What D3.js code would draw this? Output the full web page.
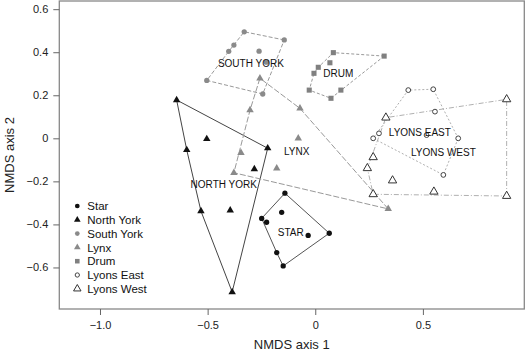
<!DOCTYPE html>
<html><head><meta charset="utf-8">
<script src="https://cdn.jsdelivr.net/npm/d3@7"></script>
<style>body{margin:0;background:#fff}svg{display:block;font-family:"Liberation Sans",Arial,sans-serif}</style>
</head><body><div id="chart"></div>
<script>
// Data: NMDS coordinates [axis1, axis2] per group
const star = [[-0.141,-0.255],[-0.156,-0.344],[-0.249,-0.372],[-0.226,-0.390],[-0.033,-0.451],[0.065,-0.441],[-0.179,-0.531],[-0.149,-0.593]];
const northYork = [[-0.644,0.178],[-0.504,-0.003],[-0.597,-0.054],[-0.221,-0.046],[-0.283,-0.143],[-0.531,-0.338],[-0.395,-0.335],[-0.386,-0.714]];
const southYork = [[-0.330,0.495],[-0.144,0.457],[-0.378,0.433],[-0.402,0.404],[-0.261,0.405],[-0.227,0.354],[-0.504,0.269],[-0.244,0.206]];
const lynx = [[-0.257,0.279],[-0.303,0.131],[-0.071,0.139],[-0.079,0.000],[-0.345,-0.067],[-0.378,-0.160],[-0.179,-0.139],[0.339,-0.328]];
const drum = [[0.084,0.398],[0.320,0.382],[0.068,0.351],[0.014,0.330],[-0.006,0.302],[-0.028,0.224],[0.073,0.186],[0.119,0.224]];
const lyonsEast = [[0.432,0.224],[0.548,0.228],[0.556,0.124],[0.296,0.023],[0.269,0.000],[0.517,0.015],[0.664,0.000],[0.595,-0.170]];
const lyonsWest = [[0.328,0.096],[0.889,0.181],[0.269,-0.088],[0.242,-0.139],[0.359,-0.196],[0.269,-0.260],[0.551,-0.248],[0.889,-0.268]];

const groupNames = ["Star","North York","South York","Lynx","Drum","Lyons East","Lyons West"];
const groupLabels = ["STAR","NORTH YORK","SOUTH YORK","LYNX","DRUM","LYONS EAST","LYONS WEST"];
const labelPos = [[-0.114,-0.435],[-0.425,-0.212],[-0.299,0.348],[-0.086,-0.062],[0.107,0.302],[0.486,0.028],[0.595,-0.067]];
const xTicks = [-1.0,-0.5,0,0.5];
const yTicks = [-0.6,-0.4,-0.2,0,0.2,0.4,0.6];
const xDomain = [-1.189,0.971];
const yDomain = [-0.793,0.638];

const W=526,H=353;
const m={left:59.3,right:1.7,top:1,bottom:44};
const svg=d3.select("#chart").append("svg").attr("width",W).attr("height",H);
const x=d3.scaleLinear().domain(xDomain).range([m.left,W-m.right]);
const y=d3.scaleLinear().domain(yDomain).range([H-m.bottom,m.top]);

const groups=[star,northYork,southYork,lynx,drum,lyonsEast,lyonsWest];
const styles=[
 {shape:d3.symbolCircle,size:22,fill:"#111",stroke:"none",line:"#555",dash:null,lw:1},
 {shape:d3.symbolTriangle,size:24,fill:"#111",stroke:"none",line:"#444",dash:null,lw:1},
 {shape:d3.symbolCircle,size:22,fill:"#8a8a8a",stroke:"none",line:"#999",dash:"4,2",lw:1},
 {shape:d3.symbolTriangle,size:24,fill:"#8a8a8a",stroke:"none",line:"#999",dash:"6,2",lw:1},
 {shape:d3.symbolSquare,size:26,fill:"#808080",stroke:"none",line:"#999",dash:"3,2",lw:1},
 {shape:d3.symbolCircle,size:18,fill:"#fff",stroke:"#444",line:"#b0b0b0",dash:"2,2",lw:1},
 {shape:d3.symbolTriangle,size:30,fill:"#fff",stroke:"#333",line:"#b0b0b0",dash:"5,2,1,2",lw:1}
];

// hulls
groups.forEach((g,i)=>{
  const pts=g.map(d=>[x(d[0]),y(d[1])]);
  const hull=d3.polygonHull(pts);
  svg.append("path").attr("d","M"+hull.join("L")+"Z").attr("fill","none")
    .attr("stroke",styles[i].line).attr("stroke-width",styles[i].lw)
    .attr("stroke-dasharray",styles[i].dash);
});
// points
groups.forEach((g,i)=>{
  const s=styles[i];
  svg.append("g").selectAll("path").data(g).join("path")
    .attr("transform",d=>`translate(${x(d[0])},${y(d[1])})`)
    .attr("d",d3.symbol().type(s.shape).size(s.size))
    .attr("fill",s.fill).attr("stroke",s.stroke).attr("stroke-width",1);
});
// group labels
svg.append("g").selectAll("text").data(groupLabels).join("text")
  .attr("x",(d,i)=>x(labelPos[i][0])).attr("y",(d,i)=>y(labelPos[i][1]))
  .attr("dy","0.36em").attr("text-anchor","middle").attr("font-size",10).attr("fill","#111")
  .text(d=>d);

// box
svg.append("rect").attr("x",m.left).attr("y",m.top).attr("width",W-m.right-m.left).attr("height",H-m.bottom-m.top)
  .attr("fill","none").attr("stroke","#888").attr("stroke-width",1.3);

const fmt=d=>d===0?"0":d3.format(".1f")(d).replace("-","\u2212");
// x axis
const xa=svg.append("g").attr("transform",`translate(0,${H-m.bottom})`)
  .call(d3.axisBottom(x).tickValues(xTicks).tickFormat(fmt).tickSize(6).tickPadding(6));
xa.select(".domain").remove();
xa.selectAll("line").attr("stroke","#666");
xa.selectAll("text").attr("font-size",11).attr("fill","#222").attr("font-family","Liberation Sans, Arial, sans-serif");
// y axis
const ya=svg.append("g").attr("transform",`translate(${m.left},0)`)
  .call(d3.axisLeft(y).tickValues(yTicks).tickFormat(fmt).tickSize(6).tickPadding(5));
ya.select(".domain").remove();
ya.selectAll("line").attr("stroke","#666");
ya.selectAll("text").attr("font-size",11).attr("fill","#222").attr("font-family","Liberation Sans, Arial, sans-serif");

svg.append("text").attr("x",(m.left+W-m.right)/2).attr("y",349).attr("text-anchor","middle")
  .attr("font-size",13).attr("fill","#222").text("NMDS axis 1");
svg.append("text").attr("transform",`translate(14,${(m.top+H-m.bottom)/2}) rotate(-90)`).attr("text-anchor","middle")
  .attr("font-size",13).attr("fill","#222").text("NMDS axis 2");

// legend
const leg=svg.append("g");
groupNames.forEach((n,i)=>{
  const yy=206+i*13.8; const s=styles[i];
  leg.append("path").attr("transform",`translate(77.3,${yy})`)
    .attr("d",d3.symbol().type(s.shape).size(s.size*0.8)).attr("fill",s.fill).attr("stroke",s.stroke);
  leg.append("text").attr("x",87.3).attr("y",yy).attr("dy","0.36em").attr("font-size",11.5).attr("fill","#111").text(n);
});
</script></body></html>
